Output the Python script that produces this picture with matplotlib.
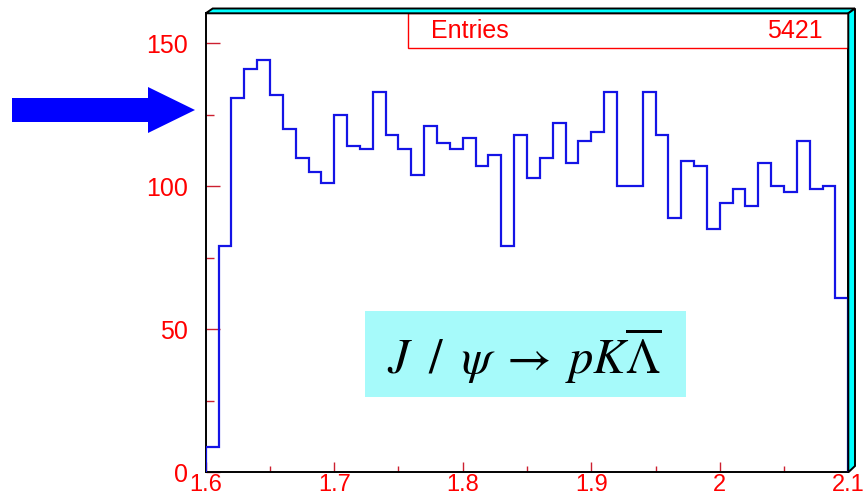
import matplotlib
matplotlib.use("Agg")
import matplotlib.pyplot as plt
import numpy as np
from matplotlib.patches import Polygon, Rectangle
from matplotlib.ticker import MultipleLocator

plt.rcParams["mathtext.fontset"] = "stix"

# ---- data ----
bin_edges = np.round(np.linspace(1.6, 2.1, 51), 3)
counts = [9, 79, 131, 141, 144, 132, 120, 110, 105, 101,
          125, 114, 113, 133, 118, 113, 104, 121, 115, 113,
          117, 107, 111, 79, 118, 103, 110, 122, 108, 116,
          119, 133, 100, 100, 133, 118, 89, 109, 107, 85,
          94, 99, 93, 108, 100, 98, 116, 99, 100, 61]
x_ticks = [1.6, 1.7, 1.8, 1.9, 2.0, 2.1]
x_tick_labels = ["1.6", "1.7", "1.8", "1.9", "2", "2.1"]
y_ticks = [0, 50, 100, 150]
y_tick_labels = ["0", "50", "100", "150"]
entries_label = "Entries"
entries_value = "5421"
title_math = r"$J\;\;/\;\;\psi\;\rightarrow\;pK\overline{\Lambda}$"

W, H = 867, 498
fig = plt.figure(figsize=(W / 100, H / 100), dpi=100)
fig.patch.set_facecolor("white")

def fx(px):
    return px / W

def fy(py):
    return 1 - py / H

SANS = ["Liberation Sans", "DejaVu Sans"]
LBL = 18

ax_l, ax_r, ax_t, ax_b = 205.7, 848.3, 13.3, 472.3
ax = fig.add_axes([fx(ax_l), fy(ax_b), fx(ax_r - ax_l), (ax_b - ax_t) / H])
ax.set_xlim(1.6, 2.1)
ax.set_ylim(0, 160.5)

ax.stairs(counts, bin_edges, baseline=0, color="#1414e6", linewidth=1.6, zorder=3)

red = "#ff0000"
tickred = "#cc2030"
ax.set_xticks(x_ticks)
ax.set_xticklabels(x_tick_labels)
ax.set_yticks(y_ticks)
ax.set_yticklabels(y_tick_labels)
ax.xaxis.set_minor_locator(MultipleLocator(0.05))
ax.yaxis.set_minor_locator(MultipleLocator(25))
for lab in ax.get_xticklabels():
    lab.set_family(SANS)
    lab.set_fontsize(17)
    lab.set_color(red)
for lab in ax.get_yticklabels():
    lab.set_family(SANS)
    lab.set_fontsize(LBL)
    lab.set_color(red)
ax.tick_params(axis="both", which="both", direction="in", colors=tickred,
               labelcolor=red, top=False, right=False)
ax.tick_params(axis="x", which="major", length=7, width=1, pad=1)
ax.tick_params(axis="x", which="minor", length=4, width=1)
ax.tick_params(axis="y", which="major", length=10, width=1, pad=13)
ax.tick_params(axis="y", which="minor", length=6, width=1)
for s in ax.spines.values():
    s.set_color("black")
    s.set_linewidth(1.4)

# Entries box
ax.add_patch(Rectangle((fx(408), fy(48.3)), fx(ax_r - 408), (48.3 - ax_t) / H,
                       transform=fig.transFigure, facecolor="white",
                       edgecolor=red, linewidth=1.0, zorder=4))
fig.text(fx(431), fy(31.5), entries_label, color=red, fontsize=LBL,
         family=SANS, va="center", ha="left", zorder=5)
fig.text(fx(823), fy(31.5), entries_value, color=red, fontsize=LBL,
         family=SANS, va="center", ha="right", zorder=5)

# Formula box
fig.patches.append(Rectangle((fx(365), fy(396.7)), fx(686 - 365), (396.7 - 311) / H,
                             transform=fig.transFigure, facecolor="#a6fafa",
                             edgecolor="none", zorder=2))
fig.text(fx(524), fy(374), title_math, fontsize=35, color="black",
         ha="center", va="baseline", zorder=6)

# 3D bevel frame
cyan = "#00ffff"
top_poly = [(ax_l, ax_t), (ax_l + 7, 8.5), (855, 8.5), (ax_r, ax_t)]
right_poly = [(ax_r, ax_t), (855, 8.5), (855, 466), (ax_r, ax_b)]
for poly in (top_poly, right_poly):
    fig.patches.append(Polygon([(fx(x), fy(y)) for x, y in poly], closed=True,
                               transform=fig.transFigure, facecolor=cyan,
                               edgecolor="black", linewidth=1.4, zorder=1))

# Blue arrow
arrow = [(12, 98), (148, 98), (148, 87), (195, 110), (148, 133), (148, 122), (12, 122)]
fig.patches.append(Polygon([(fx(x), fy(y)) for x, y in arrow], closed=True,
                           transform=fig.transFigure, facecolor="#0000ff",
                           edgecolor="none", zorder=1))

fig.savefig("out.png", dpi=100)
